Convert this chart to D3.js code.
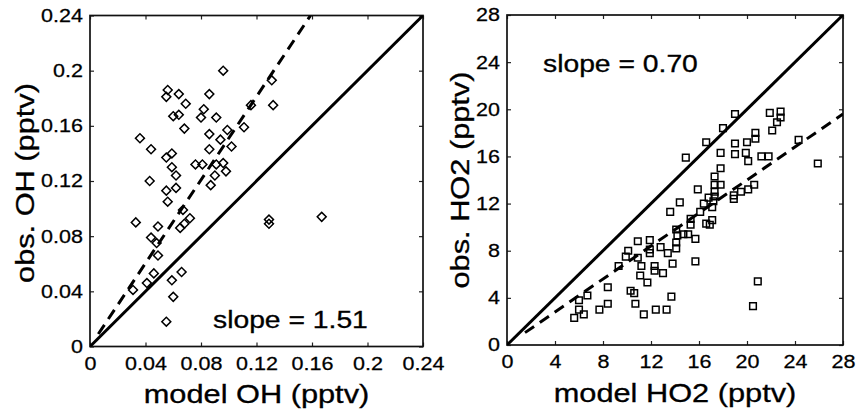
<!DOCTYPE html>
<html>
<head>
<meta charset="utf-8">
<script src="https://cdn.jsdelivr.net/npm/d3@7/dist/d3.min.js"></script>
<style>
  body { margin: 0; background: #fff; }
  text { font-family: "Liberation Sans", Arial, Helvetica, sans-serif; fill: #000; }
</style>
</head>
<body>
<svg id="chart" width="857" height="412"></svg>
<script>
// tick values for both panels
const ohTicks = [0, 0.04, 0.08, 0.12, 0.16, 0.2, 0.24];
const ho2Ticks = [0, 4, 8, 12, 16, 20, 24, 28];

const ohPoints = [
    [0.096, 0.200], [0.056, 0.186], [0.055, 0.181], [0.064, 0.183], [0.069, 0.176],
    [0.086, 0.183], [0.060, 0.167], [0.064, 0.168], [0.068, 0.158], [0.080, 0.166],
    [0.082, 0.172], [0.091, 0.166], [0.036, 0.151], [0.044, 0.143], [0.043, 0.120],
    [0.055, 0.137], [0.059, 0.140], [0.059, 0.130], [0.062, 0.124], [0.055, 0.113],
    [0.062, 0.115], [0.056, 0.105], [0.076, 0.132], [0.081, 0.132], [0.086, 0.143],
    [0.086, 0.154], [0.087, 0.117], [0.090, 0.124], [0.091, 0.132], [0.094, 0.150],
    [0.099, 0.157], [0.102, 0.145], [0.096, 0.133], [0.098, 0.127], [0.111, 0.159],
    [0.116, 0.175], [0.131, 0.193], [0.132, 0.175], [0.067, 0.099], [0.072, 0.093],
    [0.065, 0.086], [0.068, 0.089], [0.033, 0.090], [0.049, 0.087], [0.044, 0.079],
    [0.048, 0.075], [0.049, 0.066], [0.046, 0.053], [0.041, 0.046], [0.031, 0.041],
    [0.059, 0.048], [0.066, 0.054], [0.060, 0.036], [0.055, 0.018], [0.129, 0.092],
    [0.129, 0.089], [0.167, 0.094]
];

// HO2: [model, observed] (pptv)
const ho2Points = [
    [5.6, 2.3], [6.0, 3.0], [6.4, 2.6], [6.0, 3.8], [6.7, 4.2], [7.7, 3.0], [8.4, 3.5],
    [8.4, 4.9], [9.3, 6.7], [9.9, 7.5], [10.1, 8.0], [10.9, 8.8], [11.9, 8.9], [10.9, 7.4],
    [11.1, 5.9], [11.7, 5.3], [10.3, 4.6], [10.6, 4.4], [10.7, 3.5], [11.4, 2.6], [12.4, 3.0],
    [13.3, 3.0], [13.7, 4.1], [12.3, 6.7], [12.3, 6.3], [13.0, 6.1], [13.8, 6.9], [15.7, 7.1],
    [11.9, 8.1], [11.9, 7.8], [11.2, 6.7], [12.8, 8.3], [13.4, 7.8], [14.1, 8.2], [14.1, 8.7],
    [14.2, 9.3], [14.7, 9.4], [14.1, 9.8], [15.1, 9.4], [15.7, 9.0], [15.3, 10.2], [15.3, 10.7],
    [16.9, 10.2], [17.1, 10.6], [16.6, 10.3], [13.6, 11.3], [14.4, 12.1], [16.1, 11.3],
    [16.4, 12.0], [17.1, 11.7], [17.2, 12.2], [17.3, 12.6], [16.8, 12.5], [17.3, 13.0],
    [15.9, 13.2], [17.3, 13.6], [17.8, 13.6], [17.3, 14.3], [17.8, 15.0], [17.8, 16.3],
    [14.9, 15.9], [18.9, 12.4], [18.9, 12.7], [19.5, 13.0], [20.1, 13.2], [20.6, 13.6],
    [16.6, 17.2], [18.0, 18.4], [19.0, 19.6], [19.0, 16.2], [19.0, 17.1], [19.9, 16.3],
    [20.0, 17.2], [20.1, 15.6], [20.7, 17.5], [20.7, 18.0], [21.2, 16.0], [21.8, 16.0],
    [22.1, 18.2], [22.5, 18.9], [22.8, 19.3], [22.8, 19.8], [21.9, 19.7], [24.3, 17.4],
    [25.9, 15.4], [20.5, 3.3], [20.9, 5.4]
];

// fitted slopes and where the dashed fit line starts
const fitSlopes = [1.51, 0.70];
const fitStarts = [0.006, 1.5];
const slopeLabels = ["slope = 1.51", "slope = 0.70"];
const xTitles = ["model OH (pptv)", "model HO2 (pptv)"];
const yTitles = ["obs. OH (pptv)", "obs. HO2 (pptv)"];

const SX = 1.23; // the original lettering is noticeably wider than Liberation Sans
const svg = d3.select("#chart");

function drawPanel(i, box, ticks, points, marker) {
    const max = ticks[ticks.length - 1];
    const x = d3.scaleLinear().domain([0, max]).range([box.x0, box.x1]);
    const y = d3.scaleLinear().domain([0, max]).range([box.y1, box.y0]);
    const fmt = v => String(+v.toFixed(2));

    const g = svg.append("g");

    g.append("clipPath").attr("id", "clip" + i)
        .append("rect")
        .attr("x", box.x0).attr("y", box.y0)
        .attr("width", box.x1 - box.x0).attr("height", box.y1 - box.y0);

    // ticks pointing inward on all four sides
    const bottom = g.append("g")
        .attr("transform", "translate(0," + box.y1 + ")")
        .call(d3.axisBottom(x).tickValues(ticks).tickFormat(fmt).tickSizeInner(-4).tickSizeOuter(0));
    bottom.selectAll("text")
        .attr("y", 11).attr("dy", "0.71em")
        .attr("font-size", 17.5)
        .attr("stroke", "#000").attr("stroke-width", 0.25)
        .attr("transform", "scale(" + SX + ",1)");

    const left = g.append("g")
        .attr("transform", "translate(" + box.x0 + ",0)")
        .call(d3.axisLeft(y).tickValues(ticks).tickFormat(fmt).tickSizeInner(-4).tickSizeOuter(0));
    left.selectAll("text")
        .attr("x", -7 / SX).attr("dy", "0.34em")
        .attr("font-size", 17.5)
        .attr("stroke", "#000").attr("stroke-width", 0.25)
        .attr("transform", "scale(" + SX + ",1)");

    g.append("g")
        .attr("transform", "translate(0," + box.y0 + ")")
        .call(d3.axisTop(x).tickValues(ticks).tickFormat("").tickSizeInner(-4).tickSizeOuter(0));
    g.append("g")
        .attr("transform", "translate(" + box.x1 + ",0)")
        .call(d3.axisRight(y).tickValues(ticks).tickFormat("").tickSizeInner(-4).tickSizeOuter(0));

    g.selectAll(".domain").remove();
    g.selectAll(".tick line").attr("stroke", "#222").attr("stroke-width", 1.2);

    g.append("rect")
        .attr("x", box.x0).attr("y", box.y0)
        .attr("width", box.x1 - box.x0).attr("height", box.y1 - box.y0)
        .attr("fill", "none").attr("stroke", "#111").attr("stroke-width", 1.7);

    const line = d3.line().x(d => x(d[0])).y(d => y(d[1]));
    const plot = g.append("g").attr("clip-path", "url(#clip" + i + ")");

    // 1:1 line
    plot.append("path")
        .datum([[0, 0], [max, max]])
        .attr("d", line)
        .attr("fill", "none").attr("stroke", "#000").attr("stroke-width", 3);

    // fitted line
    const s = fitSlopes[i];
    const xEnd = Math.min(max, max / s);
    plot.append("path")
        .datum([[fitStarts[i], fitStarts[i] * s], [xEnd, xEnd * s]])
        .attr("d", line)
        .attr("fill", "none").attr("stroke", "#000").attr("stroke-width", 3)
        .attr("stroke-dasharray", "11,7");

    // markers
    const sym = d3.symbol().type(d3.symbolSquare).size(marker === "diamond" ? 40 : 44);
    plot.selectAll("path.pt")
        .data(points)
        .join("path")
        .attr("class", "pt")
        .attr("d", sym)
        .attr("transform", d => "translate(" + x(d[0]) + "," + y(d[1]) + ")" + (marker === "diamond" ? " rotate(45)" : ""))
        .attr("fill", "none").attr("stroke", "#000").attr("stroke-width", 1.5);

    // titles
    g.append("text")
        .attr("transform", "translate(" + ((box.x0 + box.x1) / 2) + "," + box.titleY + ") scale(" + SX + ",1)")
        .attr("text-anchor", "middle").attr("font-size", 25)
        .attr("stroke", "#000").attr("stroke-width", 0.3)
        .text(xTitles[i]);
    g.append("text")
        .attr("transform", "translate(" + box.ytitleX + "," + box.ytitleY + ") rotate(-90) scale(" + SX + ",1)")
        .attr("text-anchor", "middle").attr("font-size", 25)
        .attr("stroke", "#000").attr("stroke-width", 0.3)
        .text(yTitles[i]);

    g.append("text")
        .attr("transform", "translate(" + box.slopeX + "," + box.slopeY + ") scale(" + SX + ",1)")
        .attr("font-size", 23)
        .attr("stroke", "#000").attr("stroke-width", 0.3)
        .text(slopeLabels[i]);
}

drawPanel(0, {x0: 90, x1: 423, y0: 15.5, y1: 346.5, titleY: 403, ytitleX: 34, ytitleY: 183,
              slopeX: 213, slopeY: 328}, ohTicks, ohPoints, "diamond");
drawPanel(1, {x0: 507, x1: 843, y0: 15, y1: 345, titleY: 402, ytitleX: 469, ytitleY: 180,
              slopeX: 543, slopeY: 72}, ho2Ticks, ho2Points, "square");
</script>
</body>
</html>
